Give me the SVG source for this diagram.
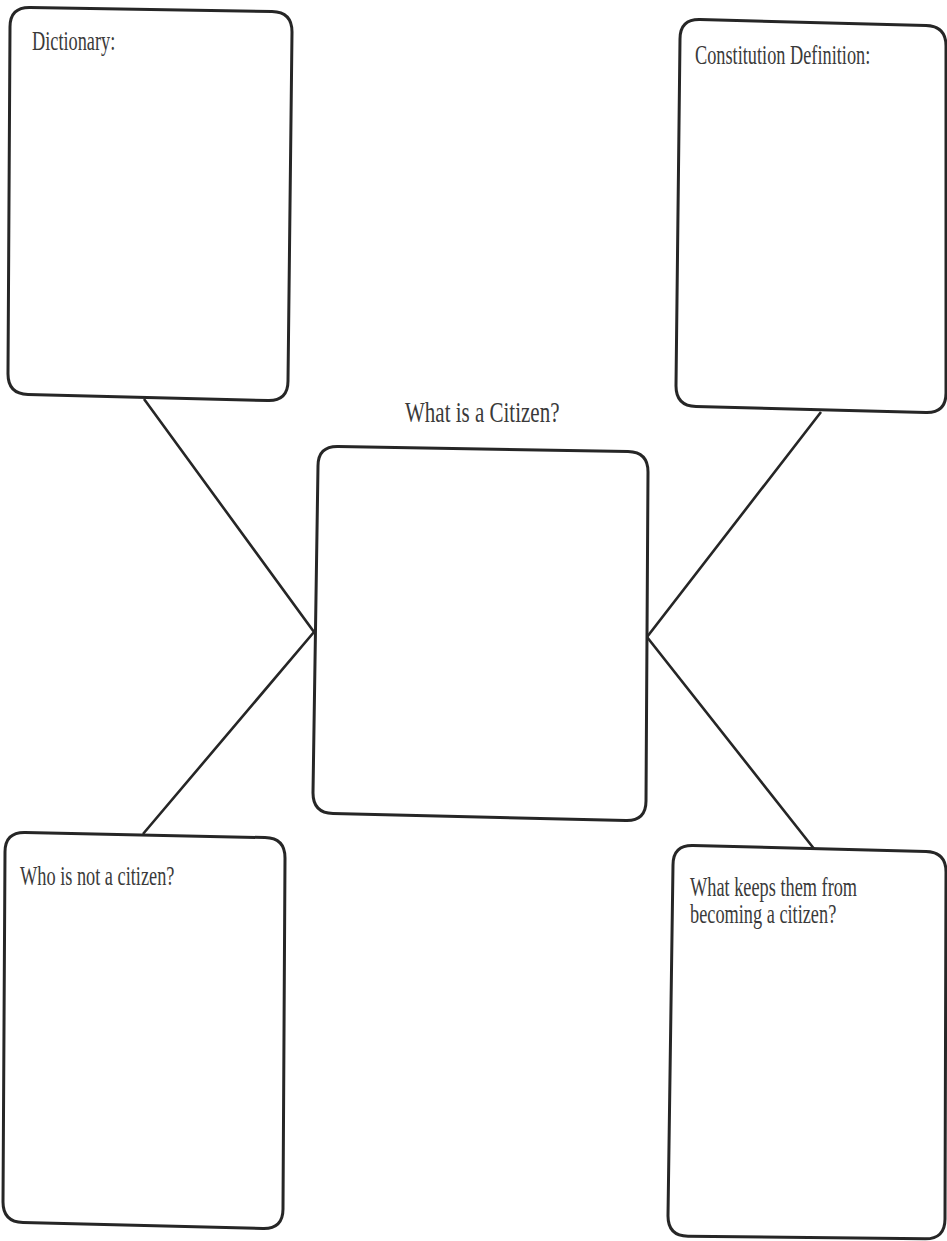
<svg xmlns="http://www.w3.org/2000/svg" width="947" height="1241" viewBox="0 0 947 1241">
<style>
.box{fill:#fff;stroke:#262626;stroke-width:3;stroke-linejoin:round}
.con{fill:none;stroke:#262626;stroke-width:2.6;stroke-linejoin:miter}
.t{font-family:"Liberation Serif","Times New Roman",serif;font-size:18.3px;fill:#3a3a3a}
.h{font-family:"Liberation Serif","Times New Roman",serif;font-size:21px;fill:#3a3a3a}
</style>
<rect width="947" height="1241" fill="#fff"/>
<g id="connectors">
<polyline class="con" points="144,399 314,632 143,834"/>
<polyline class="con" points="821,412 647,637 815,850"/>
</g>
<g id="dictionary">
<path class="box" d="M 30,7.4 L 272,11.6 Q 292,12 292,32 L 288,381 Q 288,401 268,400.5 L 28,394.4 Q 8,394 8,374 L 10,27 Q 10,7 30,7.4 Z"/>
<text class="t" transform="translate(32,50) scale(1,1.45)">Dictionary:</text>
</g>
<g id="constitution">
<path class="box" d="M 700,19.5 L 926,25.5 Q 946,26 946,46 L 946,393 Q 946,413 926,412.5 L 696,406.5 Q 676,406 676,386 L 680,39 Q 680,19 700,19.5 Z"/>
<text class="t" transform="translate(695,64) scale(1,1.45)">Constitution Definition:</text>
</g>
<g id="citizen">
<text class="h" transform="translate(405,422) scale(1,1.43)">What is a Citizen?</text>
<path class="box" d="M 338,446.4 L 628,451.6 Q 648,452 648,472 L 646,801 Q 646,821 626,820.5 L 333,813.5 Q 313,813 313,793 L 318,466 Q 318,446 338,446.4 Z"/>
</g>
<g id="not-citizen">
<path class="box" d="M 25,832.4 L 265,837.6 Q 285,838 285,858 L 283,1209 Q 283,1229 263,1228.5 L 23,1222.5 Q 3,1222 3,1202 L 5,852 Q 5,832 25,832.4 Z"/>
<text class="t" transform="translate(20,885) scale(1,1.45)">Who is not a citizen?</text>
</g>
<g id="keeps-them">
<path class="box" d="M 693,845.5 L 926,851.5 Q 946,852 946,872 L 945,1219 Q 945,1239 925,1238.8 L 688,1236.2 Q 668,1236 668,1216 L 673,865 Q 673,845 693,845.5 Z"/>
<text class="t" transform="translate(690,896) scale(1,1.45)">What keeps them from</text>
<text class="t" transform="translate(690,923) scale(1,1.45)">becoming a citizen?</text>
</g>
</svg>
